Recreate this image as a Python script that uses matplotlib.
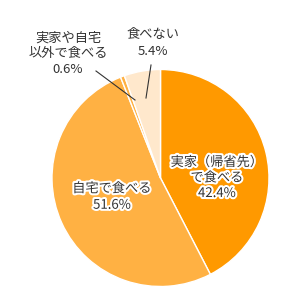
import matplotlib

matplotlib.use("Agg")
import matplotlib.pyplot as plt
import matplotlib.patheffects as pe

plt.rcParams["font.family"] = ["Noto Sans CJK JP", "DejaVu Sans"]

# clockwise from 12 o'clock
labels = ["実家（帰省先）\nで食べる", "自宅で食べる", "実家や自宅\n以外で食べる", "食べない"]
shares = [42.4, 51.6, 0.6, 5.4]
colors = ["#FF9900", "#FFB143", "#FFB143", "#FFE8CC"]

W, H = 305, 300
fig = plt.figure(figsize=(W / 100, H / 100), dpi=100)
ax = fig.add_axes([0, 0, 1, 1])

cx, cy, r = 160.5, 122, 108.5
ax.pie(shares, colors=colors, startangle=90, counterclock=False,
       center=(cx, cy), radius=r, frame=True,
       wedgeprops=dict(edgecolor="white", linewidth=1.0))
ax.set_xlim(0, W)
ax.set_ylim(0, H)
ax.set_aspect("equal")
ax.axis("off")

halo = [pe.withStroke(linewidth=3, foreground="white")]
txt = dict(ha="center", va="center", fontsize=9.5, color="#333333")

# inside labels
ax.text(217, 122, f"{labels[0]}\n{shares[0]}%", path_effects=halo, linespacing=1.25, **txt)
ax.text(112, 103, f"{labels[1]}\n{shares[1]}%", path_effects=halo, linespacing=1.35, **txt)

# outside labels with leader lines
ax.text(68, 246, f"{labels[2]}\n{shares[2]}%", linespacing=1.25, **txt)
ax.plot([96, 135], [229, 200], color="#333333", lw=0.8)
ax.text(153, 257, f"{labels[3]}\n{shares[3]}%", linespacing=1.45, **txt)
ax.plot([151, 146], [235, 202], color="#333333", lw=0.8)

fig.savefig("out.png", dpi=100)
